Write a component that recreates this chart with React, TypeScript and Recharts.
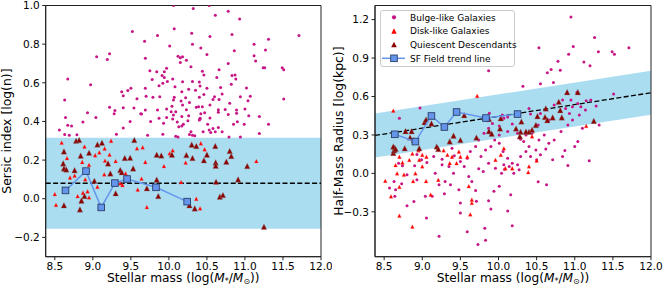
import React from 'react'
import { ComposedChart, Scatter, XAxis, YAxis, ReferenceArea, ReferenceLine, Area, Label } from 'recharts'

const FONT = '"DejaVu Sans", sans-serif'
const MAGENTA = '#c71585'
const RED = '#ff0000'
const DARKRED = '#8b0000'
const SQUARE = '#6495ed'
const BAND = '#87ceeb'

const massTicks = [8.5, 9, 9.5, 10, 10.5, 11, 11.5, 12]
const massDomain = [8.38, 12]
const sersicTicks = [-0.2, 0, 0.2, 0.4, 0.6, 0.8, 1.0]
const sersicDomain = [-0.3, 1.0]
const radiusTicks = [-0.3, 0, 0.3, 0.6, 0.9, 1.2]
const radiusDomain = [-0.65, 1.31]

const legendLabels = ['Bulge-like Galaxies', 'Disk-like Galaxies', 'Quiescent Descendants', 'SF Field trend line']

// left panel: sersic index
const bulgeSersic = [
  [10.06, 1.0], [10.32, 0.985], [10.53, 1.0], [9.52, 0.865], [10.61, 0.95], [10.78, 0.97], [10.93, 0.93],
  [10.07, 0.88], [9.85, 0.845], [10.3, 0.856], [10.54, 0.84], [10.83, 0.85], [9.68, 0.815], [10.31, 0.8],
  [10.01, 0.79], [11.12, 0.8], [11.31, 0.825], [11.71, 0.845], [11.27, 0.77], [10.42, 0.78], [10.86, 0.766],
  [10.5, 0.747], [9.22, 0.75], [9.05, 0.735], [9.19, 0.72], [10.12, 0.738], [10.15, 0.73], [10.18, 0.735],
  [9.69, 0.727], [10.23, 0.717], [10.15, 0.705], [10.29, 0.683], [9.97, 0.675], [10.78, 0.7], [11.12, 0.74],
  [11.14, 0.713], [11.24, 0.678], [11.26, 0.678], [11.49, 0.678], [11.51, 0.667], [9.75, 0.662], [9.84, 0.657],
  [9.94, 0.657], [10.44, 0.66], [10.66, 0.667], [10.83, 0.638], [10.87, 0.64], [10.63, 0.628], [10.46, 0.64],
  [9.91, 0.638], [9.94, 0.628], [10.05, 0.62], [10.88, 0.62], [8.67, 0.62], [8.97, 0.59], [10.18, 0.605],
  [10.31, 0.607], [10.4, 0.604], [9.78, 0.617], [9.98, 0.607], [9.92, 0.597], [9.87, 0.585], [9.5, 0.572],
  [9.38, 0.554], [9.46, 0.56], [9.4, 0.533], [9.69, 0.572], [10.08, 0.58], [10.41, 0.583], [10.5, 0.572],
  [10.68, 0.576], [10.82, 0.592], [11.02, 0.573], [10.26, 0.566], [10.17, 0.554], [10.35, 0.562], [10.46, 0.54],
  [10.22, 0.523], [10.06, 0.511], [9.79, 0.525], [9.88, 0.528], [9.58, 0.518], [9.7, 0.53], [10.07, 0.525],
  [10.4, 0.525], [10.6, 0.528], [10.58, 0.513], [10.66, 0.514], [10.7, 0.542], [10.94, 0.528], [11.07, 0.53],
  [11.04, 0.507], [11.51, 0.516], [8.63, 0.511], [10.16, 0.506], [10.27, 0.498], [10.18, 0.485], [10.04, 0.478],
  [10.39, 0.476], [10.54, 0.485], [10.8, 0.494], [9.97, 0.464], [10.36, 0.473], [10.44, 0.476], [9.22, 0.473],
  [9.4, 0.471], [9.54, 0.47], [9.69, 0.459], [9.85, 0.459], [10.23, 0.46], [10.65, 0.46], [10.74, 0.462],
  [11.0, 0.464], [10.65, 0.447], [10.09, 0.45], [10.03, 0.45], [9.29, 0.457], [9.28, 0.44], [9.63, 0.44],
  [9.64, 0.438], [10.47, 0.445], [10.42, 0.44], [10.89, 0.459], [10.89, 0.442], [8.93, 0.445], [9.04, 0.421],
  [9.87, 0.416], [9.97, 0.421], [10.06, 0.433], [10.17, 0.425], [10.26, 0.43], [10.41, 0.416], [10.54, 0.418],
  [11.05, 0.43], [11.19, 0.425], [10.78, 0.436], [8.64, 0.421], [8.87, 0.397], [8.67, 0.38], [8.56, 0.356],
  [8.72, 0.376], [9.4, 0.366], [9.49, 0.4], [9.76, 0.4], [9.93, 0.39], [10.05, 0.412], [10.11, 0.397],
  [10.13, 0.373], [10.17, 0.376], [10.19, 0.385], [10.25, 0.404], [10.4, 0.407], [10.41, 0.412], [10.51, 0.385],
  [10.58, 0.364], [10.65, 0.368], [10.85, 0.385], [10.9, 0.398], [10.99, 0.385], [8.63, 0.333], [8.69, 0.328],
  [8.79, 0.331], [9.31, 0.334], [9.72, 0.329], [9.92, 0.334], [10.29, 0.346], [10.27, 0.333], [10.31, 0.329],
  [10.34, 0.326], [10.09, 0.323], [10.12, 0.32], [10.45, 0.346], [10.55, 0.343], [10.61, 0.346], [10.7, 0.346],
  [10.79, 0.32], [10.94, 0.32], [11.19, 0.338], [11.31, 0.385], [10.53, 0.356],
]

const diskSersic = [
  [8.59, 0.29], [8.66, 0.21], [8.7, 0.11], [8.76, 0.12], [8.89, 0.27], [8.86, 0.19], [8.95, 0.175], [8.9, 0.1],
  [9.085, 0.24], [9.03, 0.225], [9.155, 0.26], [9.22, 0.228], [9.16, 0.197], [9.06, 0.062], [9.15, 0.126],
  [9.3, 0.195], [9.24, 0.3], [9.43, 0.131], [9.36, 0.08], [9.39, 0.071], [9.45, 0.114], [9.58, 0.261],
  [9.655, 0.266], [9.64, 0.104], [9.59, 0.047], [9.69, 0.19], [9.71, -0.043], [9.935, 0.169], [10.01, 0.235],
  [10.05, 0.25], [10.16, 0.086], [10.22, 0.187], [10.42, 0.287], [10.47, 0.256], [11.15, 0.195], [10.41, -0.05],
  [10.36, 0.0], [8.5, 0.024], [8.515, -0.032], [8.8, 0.014], [8.87, 0.031], [8.85, -0.007], [8.93, 0.038],
  [8.95, 0.007],
]

const quiescentSersic = [
  [8.62, 0.245], [8.61, 0.183], [8.62, 0.157], [8.65, 0.152], [8.76, 0.148], [8.78, 0.3], [8.82, 0.304],
  [8.95, 0.238], [8.84, 0.223], [9.02, 0.093], [9.06, 0.281], [9.12, 0.29], [9.2, 0.183], [9.23, 0.131],
  [9.3, 0.028], [9.42, 0.211], [9.49, 0.212], [9.36, 0.149], [9.38, 0.137], [9.545, 0.304], [9.53, 0.157],
  [9.71, 0.054], [9.84, 0.228], [9.9, 0.224], [9.84, 0.099], [9.86, 0.014], [10.04, 0.228], [10.23, 0.226],
  [10.3, 0.28], [10.36, 0.273], [10.31, 0.211], [10.5, 0.228], [10.46, 0.199], [10.61, 0.273], [10.615, 0.188],
  [10.615, 0.171], [10.62, 0.088], [10.67, 0.011], [10.71, 0.019], [10.8, 0.247], [10.82, 0.221], [10.755, 0.192],
  [10.91, 0.1], [11.03, 0.169], [11.25, -0.145], [10.27, -0.034], [10.34, -0.05], [8.62, -0.034], [8.83, -0.055],
  [8.89, 0.014], [8.85, -0.01],
]

const trendSersic = [[8.64, 0.043], [8.91, 0.143], [9.11, -0.045], [9.29, 0.081], [9.45, 0.102], [9.83, 0.059], [10.24, -0.015]]
const sersicBand = [-0.155, 0.316]
const sersicFit = 0.08

// right panel: half-mass radius
const bulgeRadius = [
  [10.95, 1.22], [11.26, 1.06], [10.53, 0.98], [10.98, 0.99], [10.92, 0.93], [11.31, 0.95], [11.49, 0.95],
  [11.52, 0.93], [11.71, 0.98], [11.12, 0.87], [10.78, 0.875], [11.2, 0.84], [10.69, 0.81], [10.81, 0.805],
  [10.64, 0.785], [10.72, 0.71], [10.32, 0.68], [9.87, 0.8], [10.55, 0.7], [11.03, 0.634], [11.51, 0.62],
  [8.7, 0.43], [8.97, 0.51], [9.88, 0.47], [10.05, 0.455], [10.12, 0.44], [10.07, 0.43], [10.18, 0.385],
  [10.25, 0.45], [10.4, 0.507], [10.42, 0.463], [10.55, 0.468], [10.73, 0.533], [10.84, 0.572], [10.95, 0.572],
  [11.04, 0.546], [10.97, 0.52], [10.88, 0.507], [10.93, 0.468], [11.06, 0.455], [11.14, 0.494], [11.21, 0.572],
  [11.28, 0.525], [11.15, 0.567], [11.32, 0.378], [11.08, 0.52], [11.19, 0.098], [10.91, 0.062], [11.0, 0.209],
  [10.87, 0.178], [10.84, 0.132], [10.71, 0.106], [10.62, 0.19], [10.66, 0.235], [10.53, 0.26], [10.44, 0.313],
  [10.36, 0.3], [10.29, 0.267], [10.25, 0.313], [10.12, 0.326], [10.01, 0.3], [9.95, 0.261], [9.9, 0.209],
  [9.83, 0.183], [9.77, 0.132], [9.7, 0.209], [9.63, 0.17], [9.59, 0.119], [9.5, 0.093], [9.42, 0.137],
  [9.39, 0.196], [9.35, 0.054], [9.26, 0.067], [9.17, 0.002], [9.22, -0.089], [9.29, -0.159], [9.22, -0.49],
  [9.055, -0.348], [9.04, -0.179], [8.93, -0.05], [8.74, 0.059], [8.8, -0.011], [8.73, -0.081], [8.63, -0.063],
  [8.65, -0.127], [8.64, -0.179], [8.69, 0.08], [8.57, -0.114], [8.89, -0.22], [8.8, -0.252], [9.37, -0.089],
  [9.48, -0.127], [9.5, -0.231], [9.5, -0.309], [9.59, -0.456], [9.7, -0.133], [9.65, -0.063], [9.71, -0.218],
  [9.73, -0.555], [9.82, -0.428], [9.83, -0.521], [9.9, -0.278], [9.94, -0.14], [9.87, -0.213], [10.01, -0.101],
  [10.04, 0.002], [10.07, 0.067], [10.08, 0.033], [10.12, 0.119], [10.14, 0.054], [10.18, 0.08], [10.2, 0.002],
  [10.25, 0.067], [10.27, 0.028], [10.29, 0.132], [10.36, 0.17], [10.42, 0.132], [10.5, 0.106], [10.49, 0.183],
  [10.55, 0.145], [10.52, -0.065], [10.63, -0.089], [10.16, -0.166], [10.18, -0.408], [10.12, -0.293],
  [9.96, 0.041], [9.87, 0.08], [9.8, 0.015], [9.74, 0.036], [9.61, -0.024], [9.55, 0.054], [9.41, 0.002],
  [9.3, -0.063], [9.13, -0.179], [10.66, 0.416], [10.73, 0.261], [10.82, 0.326], [10.91, 0.378], [10.97, 0.416],
  [11.1, 0.352], [11.04, 0.248], [10.52, 0.378], [10.6, 0.3], [10.33, 0.248], [10.4, 0.209], [10.01, 0.235],
  [10.06, 0.17], [9.74, 0.261], [9.81, 0.313], [9.87, 0.352], [9.92, 0.39], [10.01, 0.37], [9.26, 0.111],
  [9.15, 0.132], [9.06, 0.085], [8.99, 0.106], [8.93, 0.147], [8.9, 0.059],
]

const diskRadius = [
  [8.62, 0.49], [9.72, 0.605], [11.15, 0.37], [8.515, -0.058], [8.59, -0.18], [8.67, 0.0], [8.65, 0.065],
  [8.7, 0.13], [8.74, 0.085], [8.7, -0.105], [8.76, -0.01], [8.83, 0.105], [8.88, -0.06], [8.91, 0.0],
  [8.87, 0.155], [8.95, 0.18], [9.0, 0.145], [8.96, 0.105], [9.0, 0.055], [9.055, 0.13], [9.05, -0.06],
  [9.11, -0.165], [9.21, -0.05], [9.28, 0.18], [9.33, 0.145], [9.36, 0.08], [9.39, 0.13], [9.5, 0.13],
  [9.48, 0.17], [9.45, 0.08], [9.59, 0.13], [9.61, -0.1], [9.65, -0.205], [9.63, -0.32], [9.65, -0.23],
  [8.7, -0.33], [8.87, -0.415], [9.96, 0.105], [10.03, 0.145], [10.07, 0.195], [10.09, 0.04], [10.18, 0.04],
  [10.44, 0.29], [10.4, 0.055], [10.39, 0.01], [10.5, 0.1], [10.36, 0.33],
]

const quiescentRadius = [
  [8.62, 0.16], [8.63, 0.18], [8.64, 0.2], [8.62, 0.21], [8.65, 0.19], [8.77, 0.196], [8.78, 0.33], [8.86, 0.33],
  [8.84, 0.28], [8.89, 0.26], [8.96, 0.196], [9.03, 0.4], [9.05, 0.42], [9.12, 0.39], [9.19, 0.21], [9.21, 0.19],
  [9.36, 0.25], [9.41, 0.295], [9.5, 0.26], [9.55, 0.455], [9.71, 0.28], [9.875, 0.424], [9.875, 0.33],
  [9.91, 0.31], [10.03, 0.43], [10.02, 0.35], [10.23, 0.35], [10.29, 0.325], [10.3, 0.405], [10.36, 0.325],
  [10.4, 0.325], [10.44, 0.34], [10.28, 0.29], [10.51, 0.447], [10.49, 0.378], [10.61, 0.44], [10.62, 0.507],
  [10.64, 0.416], [10.71, 0.437], [10.79, 0.559], [10.81, 0.494], [10.83, 0.437], [10.9, 0.634], [11.04, 0.634],
  [11.25, 0.41],
]

const trendRadius = [[8.64, 0.305], [8.91, 0.248], [9.12, 0.448], [9.29, 0.362], [9.45, 0.479], [9.835, 0.432], [10.25, 0.463]]
const radiusBandX = [8.38, 12]
const radiusBandLow = [0.124, 0.458]
const radiusBandHigh = [0.468, 0.8]
const radiusFit = [0.296, 0.629]

const pts = (a: number[][]) => a.map(([x, y]) => ({ x, y }))
const fmt = (v: number) => (v < 0 ? '\u2212' : '') + Math.abs(v).toFixed(1)

const tri = (cx: number, cy: number, h: number) => `M${cx},${cy - h}L${cx - h},${cy + h}L${cx + h},${cy + h}Z`

const BulgeDot = (p: any) => <circle cx={p.cx} cy={p.cy} r={1.5} fill={MAGENTA} />
const DiskTri = (p: any) => <path d={tri(p.cx, p.cy, 1.9)} fill={RED} stroke="rgba(255,80,80,0.5)" strokeWidth={0.5} />
const QuiTri = (p: any) => <path d={tri(p.cx, p.cy, 2.8)} fill={DARKRED} stroke="rgba(140,140,140,0.6)" strokeWidth={0.6} />
const TrendSq = (p: any) => <rect x={p.cx - 3.3} y={p.cy - 3.3} width={6.6} height={6.6} fill={SQUARE} stroke="#2c3e66" strokeWidth={0.9} />

const tickStyle = { fontSize: 10.5, fill: '#000', fontFamily: FONT }
const axisLine = { stroke: '#222', strokeWidth: 1 }

const xLabel = (p: any) => {
  const vb = p.viewBox
  return (
    <text x={vb.x + vb.width / 2} y={vb.y + 25.6} textAnchor="middle" fontSize={12.2} fontFamily={FONT} fill="#000">
      Stellar mass (log(<tspan fontStyle="italic">M</tspan>
      <tspan fontSize={8} dy={1.8}>*</tspan>
      <tspan dy={-1.8}>/</tspan>
      <tspan fontStyle="italic">M</tspan>
      <tspan fontSize={8} dy={1.8}>⊙</tspan>
      <tspan dy={-1.8}>))</tspan>
    </text>
  )
}

const yLabel = (text: string) => (p: any) => {
  const vb = p.viewBox
  const cx = 11
  const cy = vb.y + vb.height / 2
  return (
    <text x={cx} y={cy} transform={`rotate(-90 ${cx} ${cy})`} textAnchor="middle" fontSize={12.4} fontFamily={FONT} fill="#000">
      {text}
    </text>
  )
}

function SersicPanel() {
  return (
    <ComposedChart width={332} height={285} margin={{ top: 5.5, right: 11, bottom: 0, left: 0 }}>
      <XAxis dataKey="x" type="number" domain={massDomain} ticks={massTicks} interval={0} allowDataOverflow
        tickFormatter={fmt} tick={tickStyle} tickSize={3.5} tickMargin={2} height={28.3} axisLine={axisLine} tickLine={axisLine}>
        <Label content={xLabel} />
      </XAxis>
      <YAxis dataKey="y" type="number" domain={sersicDomain} ticks={sersicTicks} interval={0} allowDataOverflow
        tickFormatter={fmt} tick={tickStyle} tickSize={3.5} tickMargin={2.5} width={45.7} axisLine={axisLine} tickLine={axisLine}>
        <Label content={yLabel('Sersic index [log(n)]')} />
      </YAxis>
      <ReferenceArea y1={sersicBand[0]} y2={sersicBand[1]} x1={massDomain[0]} x2={massDomain[1]} fill={BAND} fillOpacity={0.7} stroke="none" />
      <ReferenceArea x1={massDomain[0]} x2={massDomain[1]} y1={sersicDomain[0]} y2={sersicDomain[1]} fill="none" fillOpacity={0} stroke="#222" strokeWidth={1} />
      <ReferenceLine y={sersicFit} stroke="#000" strokeWidth={1.3} strokeDasharray="5 2.4" />
      <Scatter data={pts(bulgeSersic)} shape={BulgeDot} isAnimationActive={false} />
      <Scatter data={pts(diskSersic)} shape={DiskTri} isAnimationActive={false} />
      <Scatter data={pts(quiescentSersic)} shape={QuiTri} isAnimationActive={false} />
      <Scatter data={pts(trendSersic)} shape={TrendSq} line={{ stroke: SQUARE, strokeWidth: 1.5 }} lineType="joint" isAnimationActive={false} />
    </ComposedChart>
  )
}

const bandRows = radiusBandX.map((x, i) => ({ x, band: [radiusBandLow[i], radiusBandHigh[i]] }))

function RadiusPanel() {
  return (
    <ComposedChart width={332} height={285} data={bandRows} margin={{ top: 5.5, right: 13, bottom: 0, left: 0 }}>
      <XAxis dataKey="x" type="number" domain={massDomain} ticks={massTicks} interval={0} allowDataOverflow
        tickFormatter={fmt} tick={tickStyle} tickSize={3.5} tickMargin={2} height={28.3} axisLine={axisLine} tickLine={axisLine}>
        <Label content={xLabel} />
      </XAxis>
      <YAxis dataKey="y" type="number" domain={radiusDomain} ticks={radiusTicks} interval={0} allowDataOverflow
        tickFormatter={fmt} tick={tickStyle} tickSize={3.5} tickMargin={2.5} width={43} axisLine={axisLine} tickLine={axisLine}>
        <Label content={yLabel('Half-Mass Radius [log(kpc)]')} />
      </YAxis>
      <Area dataKey="band" type="linear" fill={BAND} fillOpacity={0.7} stroke="none" isAnimationActive={false} />
      <ReferenceArea x1={massDomain[0]} x2={massDomain[1]} y1={radiusDomain[0]} y2={radiusDomain[1]} fill="none" fillOpacity={0} stroke="#222" strokeWidth={1} />
      <ReferenceLine segment={[{ x: radiusBandX[0], y: radiusFit[0] }, { x: radiusBandX[1], y: radiusFit[1] }]}
        stroke="#000" strokeWidth={1.3} strokeDasharray="5 2.4" />
      <Scatter data={pts(bulgeRadius)} shape={BulgeDot} isAnimationActive={false} />
      <Scatter data={pts(diskRadius)} shape={DiskTri} isAnimationActive={false} />
      <Scatter data={pts(quiescentRadius)} shape={QuiTri} isAnimationActive={false} />
      <Scatter data={pts(trendRadius)} shape={TrendSq} line={{ stroke: SQUARE, strokeWidth: 1.5 }} lineType="joint" isAnimationActive={false} />
    </ComposedChart>
  )
}

function LegendBox() {
  const rowY = [7.3, 21, 34.5, 48.3]
  return (
    <svg width={140} height={58} style={{ position: 'absolute', left: 380, top: 10 }}>
      <rect x={0.5} y={0.5} width={134} height={56} rx={2.5} fill="#fff" fillOpacity={0.8} stroke="#ccc" />
      <circle cx={14} cy={rowY[0]} r={2.1} fill={MAGENTA} />
      <path d={tri(14, rowY[1], 2.7)} fill={RED} />
      <path d={tri(14, rowY[2], 2.8)} fill={DARKRED} />
      <line x1={2} x2={25} y1={rowY[3]} y2={rowY[3]} stroke={SQUARE} strokeWidth={1.5} />
      <rect x={14 - 3.3} y={rowY[3] - 3.3} width={6.6} height={6.6} fill={SQUARE} stroke="#2c3e66" strokeWidth={0.9} />
      {legendLabels.map((t, i) => (
        <text key={t} x={30} y={rowY[i] + 3.3} fontSize={9} fontFamily={FONT} fill="#000">{t}</text>
      ))}
    </svg>
  )
}

export default function App() {
  return (
    <div style={{ position: 'absolute', left: 0, top: 0, width: 664, height: 285, background: '#fff' }}>
      <div style={{ position: 'absolute', left: 0, top: 0 }}>
        <SersicPanel />
      </div>
      <div style={{ position: 'absolute', left: 332, top: 0 }}>
        <RadiusPanel />
      </div>
      <LegendBox />
    </div>
  )
}
